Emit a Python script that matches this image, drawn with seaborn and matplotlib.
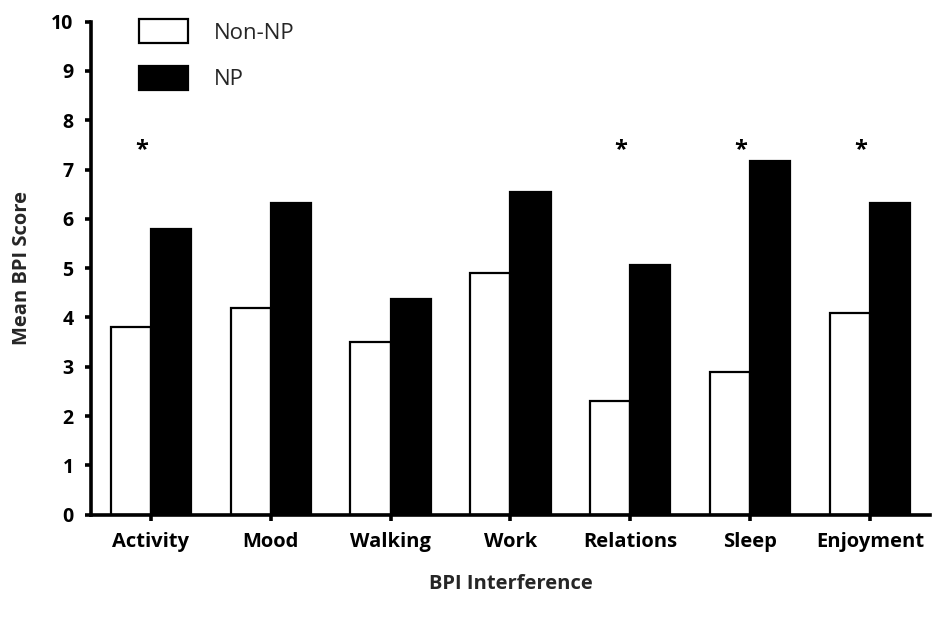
import matplotlib
matplotlib.use("Agg")
import matplotlib.pyplot as plt
from matplotlib.patches import Patch
import seaborn as sns
import pandas as pd

categories = ["Activity", "Mood", "Walking", "Work", "Relations", "Sleep", "Enjoyment"]
non_np = [3.8, 4.2, 3.5, 4.9, 2.3, 2.9, 4.1]
np_vals = [5.8, 6.33, 4.37, 6.54, 5.06, 7.18, 6.33]
groups = ["Non-NP", "NP"]
significant = ["Activity", "Relations", "Sleep", "Enjoyment"]
y_ticks = list(range(0, 11))

df = pd.DataFrame({
    "category": categories * 2,
    "group": [groups[0]] * len(categories) + [groups[1]] * len(categories),
    "score": non_np + np_vals,
})

sns.set_theme(style="ticks")
plt.rcParams["font.family"] = ["Open Sans", "DejaVu Sans"]

fig = plt.figure(figsize=(9.42, 6.2), dpi=100)
ax = fig.add_axes([0.0966, 0.170, 0.8904, 0.795])

palette = {"Non-NP": "white", "NP": "black"}
sns.barplot(data=df, x="category", y="score", hue="group", order=categories,
            hue_order=groups, palette=palette, width=0.67, saturation=1,
            edgecolor="black", linewidth=1.6, legend=False, ax=ax, errorbar=None)

ax.set_xlim(-0.5, 6.5)
ax.set_ylim(0, 10)
ax.set_yticks(y_ticks)
ax.set_yticklabels([str(t) for t in y_ticks], fontsize=14, fontweight="bold")
ax.set_xticks(range(len(categories)))
ax.set_xticklabels(categories, fontsize=14.5, fontweight="bold")

for side in ["top", "right"]:
    ax.spines[side].set_visible(False)
for side in ["left", "bottom"]:
    ax.spines[side].set_linewidth(2.6)
    ax.spines[side].set_color("black")
ax.tick_params(axis="y", length=4.5, width=2.6, pad=8, colors="black")
ax.tick_params(axis="x", length=4.5, width=2.6, pad=8, colors="black")

ax.set_ylabel("Mean BPI Score", fontsize=14.5, fontweight="bold", labelpad=14)
ax.set_xlabel("BPI Interference", fontsize=14.5, fontweight="bold", labelpad=16)

# significance markers above the groups
for cat in significant:
    i = categories.index(cat)
    ax.text(i - 0.08, 7.4, "*", ha="center", va="center", fontsize=17,
            fontweight="bold", color="black")

handles = [Patch(facecolor="white", edgecolor="black", linewidth=1.6),
           Patch(facecolor="black", edgecolor="black", linewidth=1.6)]
ax.legend(handles, groups, loc="upper left", bbox_to_anchor=(0.057, 1.005),
          frameon=False, fontsize=16, handlelength=2.2, handleheight=1.27,
          labelspacing=1.0, handletextpad=1.2, borderaxespad=0, borderpad=0)

fig.savefig("out.png", dpi=100, facecolor="white")
